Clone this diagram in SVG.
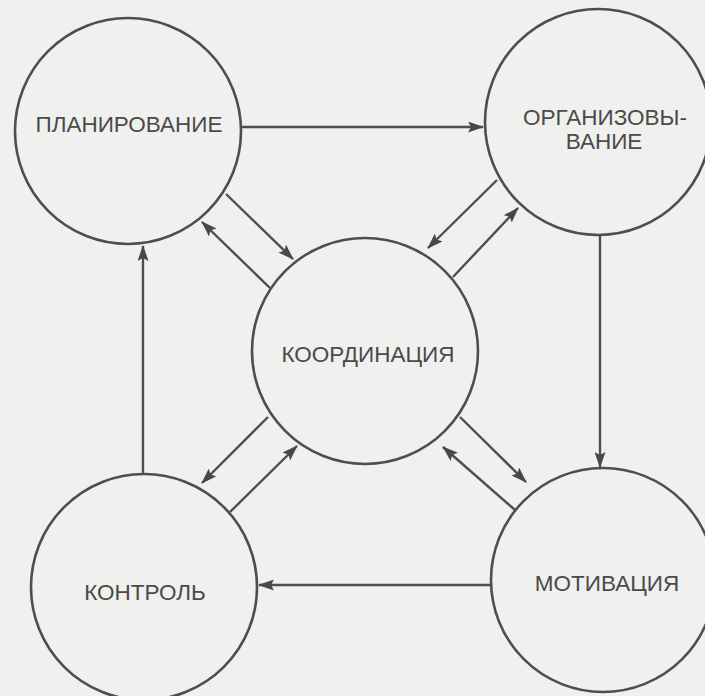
<svg xmlns="http://www.w3.org/2000/svg" width="705" height="696" viewBox="0 0 705 696">
  <defs>
    <marker id="arrow" viewBox="0 0 16 11" refX="15" refY="5.5" markerWidth="16" markerHeight="11" markerUnits="userSpaceOnUse" orient="auto">
      <path d="M0,0 L16,5.5 L0,11 L3,5.5 Z" fill="#484848"/>
    </marker>
  </defs>
  <style>
    .bg { fill: #f0f0ee; }
    .node circle { fill: none; stroke: #4e4e4e; stroke-width: 2.6; }
    .node text { font-family: "Liberation Sans", Arial, sans-serif; font-size: 22.5px; fill: #4a4a4a; text-anchor: middle; }
    .edges line { stroke: #4e4e4e; stroke-width: 2.4; marker-end: url(#arrow); }
  </style>

  <rect class="bg" x="0" y="0" width="705" height="696"/>

  <!-- connectors -->
  <g class="edges">
    <!-- main cycle -->
    <line x1="241" y1="127" x2="483" y2="127"/>
    <line x1="600" y1="235" x2="600" y2="467"/>
    <line x1="491" y1="585" x2="259" y2="585"/>
    <line x1="143" y1="474" x2="143" y2="246"/>
    <!-- planning / coordination -->
    <line x1="226" y1="194" x2="293" y2="259"/>
    <line x1="270" y1="288" x2="202" y2="222"/>
    <!-- organizing / coordination -->
    <line x1="497" y1="180" x2="428" y2="248"/>
    <line x1="453" y1="277" x2="518" y2="208"/>
    <!-- coordination / control -->
    <line x1="268" y1="417" x2="202" y2="483"/>
    <line x1="230" y1="512" x2="297" y2="446"/>
    <!-- coordination / motivation -->
    <line x1="460" y1="417" x2="526" y2="482"/>
    <line x1="515" y1="510" x2="443" y2="447"/>
  </g>

  <g id="planning" class="node">
    <circle cx="128" cy="131" r="113"/>
    <text x="129" y="132">ПЛАНИРОВАНИЕ</text>
  </g>

  <g id="organizing" class="node">
    <circle cx="598" cy="122" r="113"/>
    <text x="605" y="125">ОРГАНИЗОВЫ-</text>
    <text x="604" y="149">ВАНИЕ</text>
  </g>

  <g id="coordination" class="node">
    <circle cx="365" cy="351" r="113"/>
    <text x="368" y="362">КООРДИНАЦИЯ</text>
  </g>

  <g id="control" class="node">
    <circle cx="144" cy="587" r="113"/>
    <text x="145" y="600">КОНТРОЛЬ</text>
  </g>

  <g id="motivation" class="node">
    <circle cx="603" cy="580" r="112"/>
    <text x="607" y="591">МОТИВАЦИЯ</text>
  </g>
</svg>
